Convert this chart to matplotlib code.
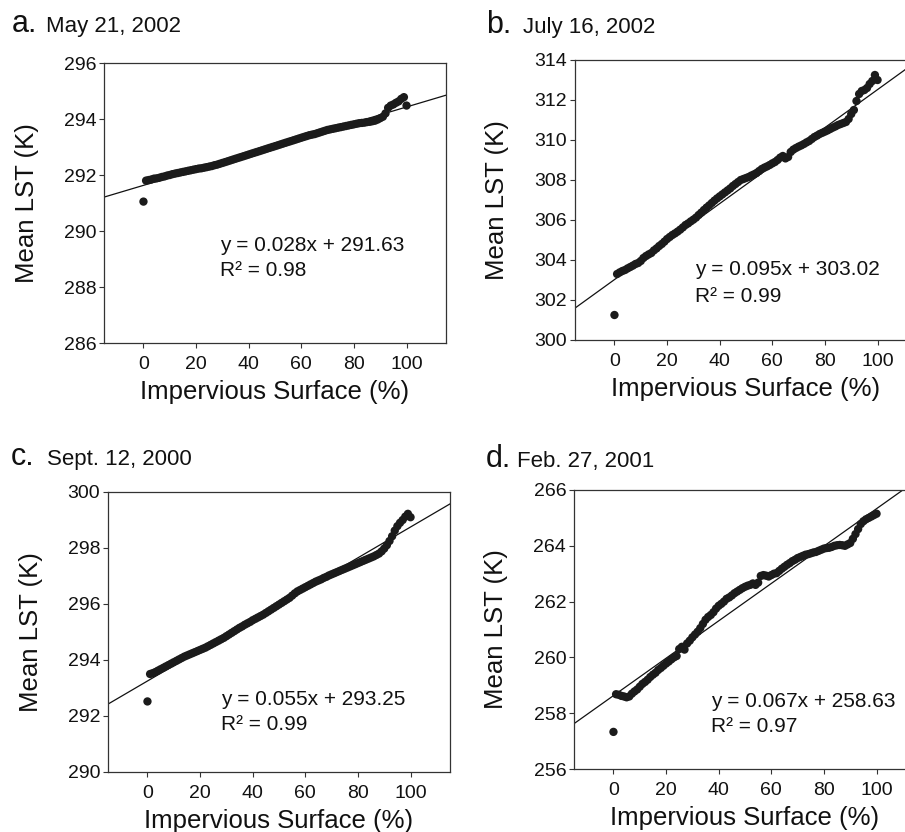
import numpy as np
import matplotlib
matplotlib.use("Agg")
import matplotlib.pyplot as plt

plt.rcParams['font.family'] = ['Liberation Sans', 'DejaVu Sans']

# ---------------- data ----------------
impervious = list(range(0, 101))  # % impervious surface (x categories 0..100)

lst_may = [291.05,
    291.80, 291.82, 291.84, 291.87, 291.88, 291.90, 291.93, 291.95, 291.98, 292.00,
    292.03, 292.05, 292.07, 292.09, 292.11, 292.13, 292.15, 292.17, 292.19, 292.21,
    292.23, 292.24, 292.26, 292.28, 292.30, 292.32, 292.35, 292.37, 292.40, 292.43,
    292.46, 292.49, 292.52, 292.55, 292.58, 292.61, 292.64, 292.67, 292.70, 292.73,
    292.76, 292.79, 292.82, 292.85, 292.88, 292.91, 292.94, 292.97, 293.00, 293.03,
    293.06, 293.09, 293.12, 293.15, 293.18, 293.21, 293.24, 293.27, 293.30, 293.33,
    293.36, 293.39, 293.42, 293.44, 293.46, 293.49, 293.52, 293.55, 293.58, 293.61,
    293.63, 293.65, 293.67, 293.69, 293.71, 293.73, 293.75, 293.77, 293.79, 293.81,
    293.83, 293.85, 293.86, 293.87, 293.89, 293.90, 293.92, 293.94, 293.98, 294.03,
    294.08, 294.20, 294.40, 294.48, 294.52, 294.58, 294.63, 294.72, 294.78, 294.48]

lst_jul = [301.25,
    303.30, 303.38, 303.45, 303.50, 303.58, 303.65, 303.72, 303.80, 303.85, 303.95,
    304.10, 304.20, 304.28, 304.35, 304.48, 304.58, 304.70, 304.80, 304.92, 305.05,
    305.15, 305.25, 305.33, 305.42, 305.52, 305.63, 305.75, 305.83, 305.93, 306.02,
    306.12, 306.25, 306.37, 306.50, 306.62, 306.73, 306.85, 306.97, 307.08, 307.18,
    307.28, 307.38, 307.48, 307.58, 307.70, 307.80, 307.90, 308.00, 308.05, 308.10,
    308.15, 308.22, 308.28, 308.35, 308.45, 308.55, 308.62, 308.68, 308.75, 308.83,
    308.90, 309.00, 309.12, 309.20, 309.08, 309.15, 309.40, 309.52, 309.60, 309.67,
    309.73, 309.80, 309.88, 309.95, 310.05, 310.15, 310.22, 310.30, 310.36, 310.42,
    310.48, 310.55, 310.62, 310.68, 310.75, 310.80, 310.85, 310.90, 311.05, 311.30,
    311.50, 311.95, 312.30, 312.45, 312.50, 312.60, 312.80, 312.95, 313.25, 313.00]

lst_sep = [292.52,
    293.50, 293.53, 293.57, 293.62, 293.67, 293.72, 293.77, 293.82, 293.87, 293.92,
    293.97, 294.02, 294.07, 294.12, 294.16, 294.20, 294.24, 294.28, 294.32, 294.36,
    294.40, 294.44, 294.49, 294.54, 294.59, 294.64, 294.69, 294.74, 294.79, 294.85,
    294.91, 294.97, 295.03, 295.09, 295.15, 295.20, 295.26, 295.31, 295.36, 295.42,
    295.47, 295.52, 295.57, 295.62, 295.68, 295.74, 295.80, 295.86, 295.92, 295.98,
    296.04, 296.10, 296.16, 296.22, 296.30, 296.38, 296.45, 296.50, 296.55, 296.60,
    296.65, 296.70, 296.75, 296.80, 296.84, 296.88, 296.93, 296.97, 297.02, 297.06,
    297.10, 297.14, 297.18, 297.22, 297.26, 297.30, 297.34, 297.38, 297.42, 297.46,
    297.50, 297.54, 297.58, 297.62, 297.66, 297.70, 297.75, 297.80, 297.88, 297.98,
    298.10, 298.25, 298.42, 298.62, 298.78, 298.90, 299.00, 299.12, 299.22, 299.10]

lst_feb = [257.33,
    258.68, 258.66, 258.62, 258.60, 258.57, 258.60, 258.70, 258.78, 258.85, 258.95,
    259.05, 259.12, 259.20, 259.30, 259.38, 259.45, 259.55, 259.62, 259.70, 259.78,
    259.85, 259.93, 260.00, 260.05, 260.30, 260.38, 260.28, 260.50, 260.60, 260.72,
    260.82, 260.92, 261.05, 261.20, 261.35, 261.45, 261.52, 261.62, 261.75, 261.85,
    261.92, 262.00, 262.10, 262.15, 262.22, 262.30, 262.36, 262.42, 262.48, 262.53,
    262.57, 262.60, 262.65, 262.60, 262.68, 262.92, 262.95, 262.93, 262.90, 262.95,
    263.00, 263.02, 263.10, 263.18, 263.25, 263.32, 263.38, 263.45, 263.50, 263.56,
    263.60, 263.64, 263.68, 263.70, 263.73, 263.76, 263.78, 263.82, 263.86, 263.90,
    263.92, 263.93, 263.96, 264.00, 264.02, 264.03, 264.02, 264.00, 264.05, 264.10,
    264.25, 264.42, 264.60, 264.78, 264.88, 264.95, 265.00, 265.05, 265.10, 265.15]

panel_letters = ["a.", "b.", "c.", "d."]
panel_dates = ["May 21, 2002", "July 16, 2002", "Sept. 12, 2000", "Feb. 27, 2001"]
slopes = [0.028, 0.095, 0.055, 0.067]
intercepts = [291.63, 303.02, 293.25, 258.63]
eq_labels = ["y = 0.028x + 291.63", "y = 0.095x + 303.02",
             "y = 0.055x + 293.25", "y = 0.067x + 258.63"]
r2_labels = ["R\u00b2 = 0.98", "R\u00b2 = 0.99", "R\u00b2 = 0.99", "R\u00b2 = 0.97"]
y_ranges = [(286, 296), (300, 314), (290, 300), (256, 266)]
x_ticks = [0, 20, 40, 60, 80, 100]
series = [lst_may, lst_jul, lst_sep, lst_feb]

# ---------------- layout (pixels in a 905x832 canvas) ----------------
W, H = 905, 832
axes_px = [  # left, top, width, height
    (104, 63, 342, 280),
    (575, 60, 342, 280),
    (108, 492, 342, 280),
    (574, 490, 342, 279),
]
eq_pos = [(29.2, 289.30, 288.39), (30.6, 303.25, 301.92),
          (28.1, 292.38, 291.49), (36.9, 258.21, 257.32)]
title_px = [((12, 32), (46, 32)), ((486, 33), (523, 33)),
            ((11, 465), (47, 465)), ((486, 467), (517, 467))]

fig = plt.figure(figsize=(W / 100, H / 100), dpi=100)
fig.patch.set_facecolor("white")

dot_color = "#1b1b1b"
spine_color = "#333333"

for i in range(4):
    l, t, w, h = axes_px[i]
    ax = fig.add_axes([l / W, 1 - (t + h) / H, w / W, h / H])
    ax.scatter(impervious, series[i], s=36, color=dot_color, edgecolors="none", zorder=3)
    xl = np.array([-15, 115])
    ax.plot(xl, slopes[i] * xl + intercepts[i], color="#111111", lw=0.9, zorder=2)
    ax.set_xlim(-15, 115)
    ax.set_ylim(*y_ranges[i])
    ax.set_xticks(x_ticks)
    ax.set_yticks(np.arange(y_ranges[i][0], y_ranges[i][1] + 1, 2))
    ax.tick_params(direction="out", length=3.6, width=0.8, colors=spine_color,
                   labelcolor="#111111", labelsize=14)
    ax.tick_params(axis="x", pad=5.5)
    ax.tick_params(axis="y", pad=2)
    for sp in ax.spines.values():
        sp.set_color(spine_color)
        sp.set_linewidth(0.9)
    ax.set_xlabel("Impervious Surface (%)", fontsize=18.5, color="#111111", labelpad=5)
    ax.set_ylabel("Mean LST (K)", fontsize=18.5, color="#111111", labelpad=18)
    ex, ey1, ey2 = eq_pos[i]
    ax.text(ex, ey1, eq_labels[i], fontsize=15, va="baseline", ha="left", color="#111111")
    ax.text(ex, ey2, r2_labels[i], fontsize=15, va="baseline", ha="left", color="#111111")
    (lx, ly), (dx, dy) = title_px[i]
    fig.text(lx / W, 1 - ly / H, panel_letters[i], fontsize=22, va="baseline", ha="left",
             color="#111111")
    fig.text(dx / W, 1 - dy / H, panel_dates[i], fontsize=16, va="baseline", ha="left",
             color="#111111")

fig.savefig("out.png", dpi=100)
